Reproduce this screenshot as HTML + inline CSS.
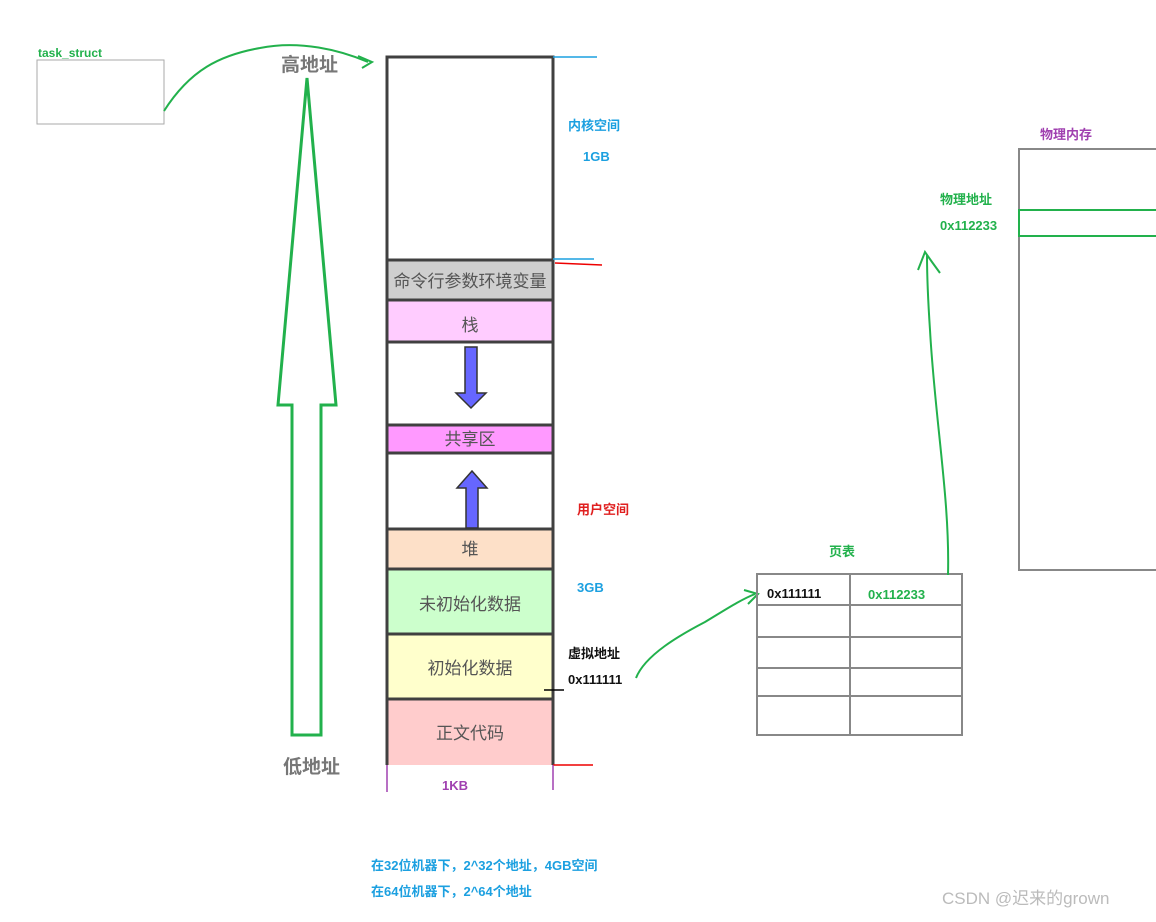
<!DOCTYPE html>
<html><head><meta charset="utf-8"><style>
body{margin:0;background:#fff;}
svg text{font-family:"Liberation Sans","Noto Sans CJK SC",sans-serif;}
</style></head><body>
<svg width="1156" height="917" xmlns="http://www.w3.org/2000/svg">
<rect x="37" y="60" width="127" height="64" fill="none" stroke="#aaa" stroke-width="1"/>
<text x="38" y="57" font-size="12" font-weight="bold" fill="#22b14c">task_struct</text>
<path d="M164 111 C190 70,220 55,260 48 C300 40,340 50,368 62" fill="none" stroke="#22b14c" stroke-width="2"/>
<path d="M358 56 L372 62 L362 68" fill="none" stroke="#22b14c" stroke-width="2"/>
<text x="281" y="71" font-size="19" font-weight="bold" fill="#777">高地址</text>
<text x="283" y="773" font-size="19" font-weight="bold" fill="#777">低地址</text>
<path d="M307 78 L336 405 L321 405 L321 735 L292 735 L292 405 L278 405 Z" fill="none" stroke="#22b14c" stroke-width="3"/>
<!-- memory blocks -->
<rect x="387" y="260" width="166" height="40" fill="#cfcfcf"/>
<rect x="387" y="300" width="166" height="42" fill="#ffccff"/>
<rect x="387" y="425" width="166" height="28" fill="#ff99ff"/>
<rect x="387" y="529" width="166" height="40" fill="#fde0c8"/>
<rect x="387" y="569" width="166" height="65" fill="#ccffcc"/>
<rect x="387" y="634" width="166" height="65" fill="#ffffcc"/>
<rect x="387" y="699" width="166" height="66" fill="#ffcccc"/>
<g stroke="#404040" stroke-width="3" fill="none">
<path d="M387 765 V57 H553 V765"/>
<path d="M387 260H553M387 300H553M387 342H553M387 425H553M387 453H553M387 529H553M387 569H553M387 634H553M387 699H553"/>
</g>
<g font-size="17" fill="#555" text-anchor="middle">
<text x="470" y="287">命令行参数环境变量</text>
<text x="470" y="331">栈</text>
<text x="470" y="445">共享区</text>
<text x="470" y="555">堆</text>
<text x="470" y="610">未初始化数据</text>
<text x="470" y="674">初始化数据</text>
<text x="470" y="739">正文代码</text>
</g>
<path d="M465 347 H477 V393 H486 L471 408 L456 393 H465 Z" fill="#6666ff" stroke="#333" stroke-width="1.5"/>
<path d="M472 471 L487 488 H478 V528 H466 V488 H457 Z" fill="#6666ff" stroke="#333" stroke-width="1.5"/>
<path d="M553 57H597M553 259H594" stroke="#1ca0e0" stroke-width="1.5"/>
<path d="M555 263 L602 265M553 765H593" stroke="#e00" stroke-width="1.5"/>
<path d="M387 765V792M553 765V790" stroke="#a040b0" stroke-width="1.5"/>
<path d="M544 690H564" stroke="#000" stroke-width="1.5"/>
<text x="568" y="130" font-size="13" font-weight="bold" fill="#1ca0e0">内核空间</text>
<text x="583" y="161" font-size="13" font-weight="bold" fill="#1ca0e0">1GB</text>
<text x="577" y="514" font-size="13" font-weight="bold" fill="#e02020">用户空间</text>
<text x="577" y="592" font-size="13" font-weight="bold" fill="#1ca0e0">3GB</text>
<text x="568" y="658" font-size="13" font-weight="bold" fill="#111">虚拟地址</text>
<text x="568" y="684" font-size="13" font-weight="bold" fill="#111">0x111111</text>
<text x="442" y="790" font-size="13" font-weight="bold" fill="#a040b0">1KB</text>
<text x="371" y="870" font-size="13" font-weight="bold" fill="#1ca0e0">在32位机器下，2^32个地址，4GB空间</text>
<text x="371" y="896" font-size="13" font-weight="bold" fill="#1ca0e0">在64位机器下，2^64个地址</text>
<path d="M636 678 C645 655,680 635,705 622 C725 610,740 600,755 594" fill="none" stroke="#22b14c" stroke-width="2"/>
<path d="M744 590 L758 594 L748 604" fill="none" stroke="#22b14c" stroke-width="2"/>
<!-- page table -->
<text x="829" y="556" font-size="13" font-weight="bold" fill="#22b14c">页表</text>
<g stroke="#888" stroke-width="2" fill="none">
<rect x="757" y="574" width="205" height="161"/>
<path d="M850 574V735M757 605H962M757 637H962M757 668H962M757 696H962"/>
</g>
<text x="767" y="598" font-size="13" font-weight="bold" fill="#111">0x111111</text>
<text x="868" y="599" font-size="13" font-weight="bold" fill="#22b14c">0x112233</text>
<path d="M948 575 C950 500,935 420,930 330 C928 300,927 280,927 255" fill="none" stroke="#22b14c" stroke-width="2"/>
<path d="M918 270 L925 252 L932 262 L940 273" fill="none" stroke="#22b14c" stroke-width="2"/>
<text x="940" y="204" font-size="13" font-weight="bold" fill="#22b14c">物理地址</text>
<text x="940" y="230" font-size="13" font-weight="bold" fill="#22b14c">0x112233</text>
<text x="1040" y="139" font-size="13" font-weight="bold" fill="#a040b0">物理内存</text>
<rect x="1019" y="149" width="150" height="421" fill="none" stroke="#888" stroke-width="2"/>
<rect x="1019" y="210" width="150" height="26" fill="none" stroke="#22b14c" stroke-width="2"/>
<text x="942" y="904" font-size="17" fill="#bbb">CSDN @迟来的grown</text>
</svg>
</body></html>
